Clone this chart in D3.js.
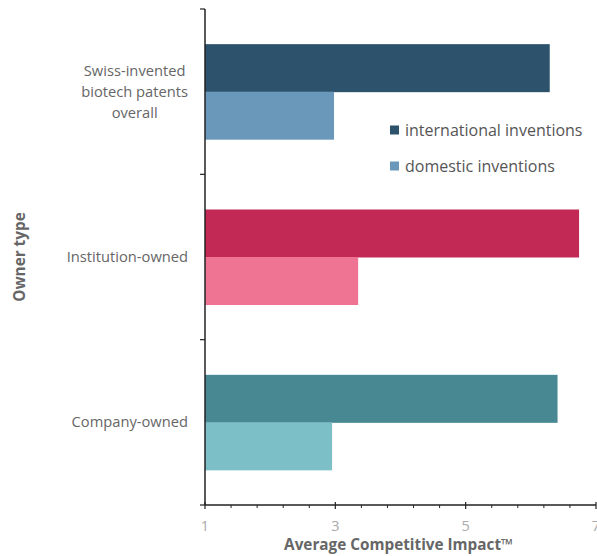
<!DOCTYPE html>
<html><head><meta charset="utf-8">
<script src="https://cdn.jsdelivr.net/npm/d3@7/dist/d3.min.js"></script>
<style>
html,body{margin:0;padding:0;background:#fff;}
svg{display:block;font-family:"Open Sans",sans-serif;}
</style></head>
<body><svg id="c" width="597" height="556"></svg>
<script>
const categories = ["Swiss-invented biotech patents overall", "Institution-owned", "Company-owned"];
const categoryLines = [["Swiss-invented","biotech patents","overall"],["Institution-owned"],["Company-owned"]];
const series = ["international inventions", "domestic inventions"];
const international = [6.29, 6.74, 6.41];
const domestic = [2.98, 3.35, 2.95];
const xTicks = [1, 3, 5, 7];
const colors = [["#2d526c","#6a98bb"],["#c22a55","#ef7494"],["#478892","#7cbfc6"]];

(function(){
const svg = d3.select("#c");
const mLeft = 205, mRight = 596, mTop = 9, mBottom = 505;

const x = d3.scaleLinear().domain([1,7]).range([mLeft,mRight]);
const y = d3.scaleBand().domain(categories).range([mTop,mBottom]).padding(0);
const yi = d3.scaleBand().domain(series).range([0,y.bandwidth()]).paddingInner(0).paddingOuter(0.74);

const values = [international, domestic];

// bars
categories.forEach((c,ci)=>{
  series.forEach((s,si)=>{
    svg.append("rect")
      .attr("x", x(1))
      .attr("y", y(c)+yi(s))
      .attr("width", x(values[si][ci]) - x(1))
      .attr("height", yi.bandwidth()+0.5)
      .attr("fill", colors[ci][si]);
  });
});

// y axis
const ya = svg.append("g");
ya.append("line").attr("x1",mLeft).attr("x2",mLeft).attr("y1",mTop).attr("y2",mBottom).attr("stroke","#222").attr("stroke-width",1.5);
const bounds = categories.map(c=>y(c)).concat([mBottom]);
bounds.forEach(b=>{
  ya.append("line").attr("x1",mLeft-5).attr("x2",mLeft).attr("y1",b).attr("y2",b).attr("stroke","#222").attr("stroke-width",1.2);
});
categories.forEach((c,ci)=>{
  const lines = categoryLines[ci];
  const cy = y(c)+y.bandwidth()/2;
  const lh = 21;
  const g = ya.append("g");
  const ts = lines.map((l,li)=> g.append("text")
      .attr("y", cy + (li-(lines.length-1)/2)*lh)
      .attr("dy","0.35em")
      .attr("fill","#666").attr("font-size","14.7px")
      .attr("text-anchor","middle").text(l));
  const maxW = d3.max(ts, t=>t.node().getComputedTextLength());
  ts.forEach(t=>t.attr("x", 188 - maxW/2));
});

// x axis
const xa = svg.append("g");
xa.append("line").attr("x1",mLeft).attr("x2",mRight).attr("y1",mBottom).attr("y2",mBottom).attr("stroke","#222").attr("stroke-width",1.5);
d3.range(1.4, 7, 0.4).forEach(v=>{
  if (xTicks.some(t=>Math.abs(t-v)<1e-6)) return;
  xa.append("line").attr("x1",x(v)).attr("x2",x(v)).attr("y1",mBottom).attr("y2",mBottom+3).attr("stroke","#222").attr("stroke-width",1);
});
xTicks.forEach(t=>{
  xa.append("line").attr("x1",x(t)).attr("x2",x(t)).attr("y1",mBottom-3).attr("y2",mBottom+4).attr("stroke","#222").attr("stroke-width",1.2);
  xa.append("text").attr("x",x(t)).attr("y",526).attr("dy","0.35em").attr("text-anchor","middle")
    .attr("fill","#aaa").attr("font-size","14.5px").text(t);
});

// axis titles
svg.append("text").attr("x",(mLeft+mRight)/2 - 2).attr("y",550).attr("text-anchor","middle")
  .attr("fill","#666").attr("font-weight","bold").attr("font-size","15.3px").text("Average Competitive Impact™");
svg.append("text").attr("transform",`translate(25,${(mTop+mBottom)/2}) rotate(-90)`).attr("text-anchor","middle")
  .attr("fill","#666").attr("font-weight","bold").attr("font-size","15.3px").text("Owner type");

// legend
const lg = svg.append("g");
series.forEach((s,si)=>{
  const ly = 130 + si*36;
  lg.append("rect").attr("x",390).attr("y",ly-4.5).attr("width",9).attr("height",9).attr("fill",colors[0][si]);
  lg.append("text").attr("x",405).attr("y",ly).attr("dy","0.35em").attr("fill","#555").attr("font-size","16px").text(s);
});
})();
</script>
</body></html>
